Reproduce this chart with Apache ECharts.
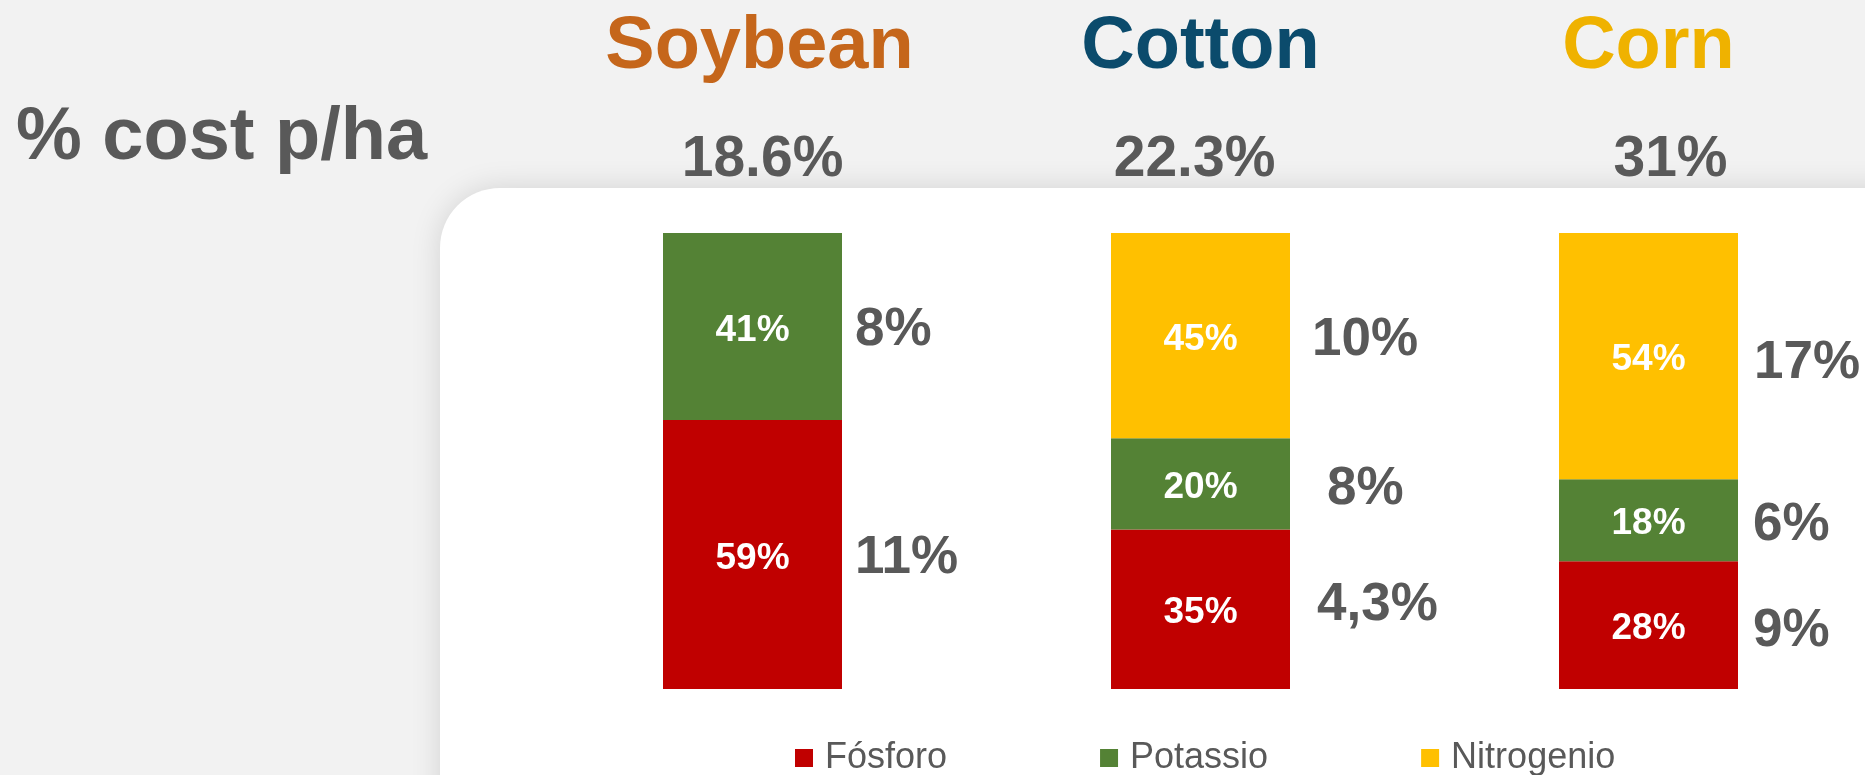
<!DOCTYPE html>
<html>
<head>
<meta charset="utf-8">
<script src="https://cdn.jsdelivr.net/npm/echarts@6/dist/echarts.min.js"></script>
<style>
  html, body { margin: 0; padding: 0; background: #f2f2f2; }
  #main { width: 1865px; height: 775px; }
</style>
</head>
<body>
<div id="main"></div>
<script>
// crops and their total fertilizer share of cost per ha
var categories = ['Soybean', 'Cotton', 'Corn'];
var totalCost = [18.6, 22.3, 31];

// composition of fertilizer cost (% of bar)
var nutrients = ['Fósforo', 'Potassio', 'Nitrogenio'];
var fosforo = [59, 35, 28];
var potassio = [41, 20, 18];
var nitrogenio = [0, 45, 54];

// share of cost per ha for each nutrient (side labels)
var fosforoCost = [11, 4.3, 9];
var potassioCost = [8, 8, 6];
var nitrogenioCost = [null, 10, 17];

// styling
var FONT = '"Liberation Sans", Arial, sans-serif';
var GRAY = '#595959';
var nutrientColors = ['#C00000', '#548235', '#FFC000'];
var cropColors = ['#C5661B', '#0B4B6C', '#EFB200'];
var nameShift = [7, 0, 0];
var costShift = [10, -6, 22];
// [dx, dy] of side labels per nutrient / crop
var sideShift = [
  [[13, 4], [27, -4], [15, 6]],
  [[13, 4], [37, 6], [15, 5]],
  [[13, 4], [22, 5], [16, 7]]
];

function pad(shift) {
  return shift >= 0 ? [0, 0, 0, shift * 2] : [0, -shift * 2, 0, 0];
}

var shares = [fosforo, potassio, nitrogenio];
var costs = [fosforoCost, potassioCost, nitrogenioCost];

var chart = echarts.init(document.getElementById('main'));

var nameRich = {}, costRich = {};
categories.forEach(function (c, i) {
  nameRich['n' + i] = { color: cropColors[i], fontSize: 74, fontWeight: 'bold', fontFamily: FONT, lineHeight: 74, padding: pad(nameShift[i]) };
  costRich['c' + i] = { color: GRAY, fontSize: 57, fontWeight: 'bold', fontFamily: FONT, lineHeight: 57, padding: pad(costShift[i]) };
});

var series = [];
nutrients.forEach(function (name, k) {
  series.push({
    name: name,
    type: 'bar',
    stack: 'share',
    barWidth: 179,
    barGap: '-100%',
    itemStyle: { color: nutrientColors[k] },
    label: {
      show: true,
      position: 'inside',
      offset: [0, 4],
      color: '#fff',
      fontSize: 37,
      fontWeight: 'bold',
      fontFamily: FONT,
      formatter: function (p) { return p.value ? p.value + '%' : ''; }
    },
    data: shares[k]
  });
});
nutrients.forEach(function (name, k) {
  series.push({
    name: name + ' cost',
    type: 'bar',
    stack: 'side',
    barWidth: 179,
    barGap: '-100%',
    silent: true,
    itemStyle: { color: 'rgba(0,0,0,0)' },
    data: shares[k].map(function (v, i) {
      return {
        value: v,
        label: { offset: sideShift[k][i] }
      };
    }),
    label: {
      show: true,
      position: 'right',
      distance: 0,
      color: GRAY,
      fontSize: 53,
      fontWeight: 'bold',
      fontFamily: FONT,
      formatter: function (p) {
        var c = costs[k][p.dataIndex];
        return c == null ? '' : String(c).replace('.', ',') + '%';
      }
    }
  });
});

chart.setOption({
  backgroundColor: '#f2f2f2',
  animation: false,
  title: {
    text: '% cost p/ha',
    left: 16,
    top: 102,
    padding: 0,
    textStyle: { color: GRAY, fontSize: 74, fontWeight: 'bold', fontFamily: FONT, lineHeight: 74 }
  },
  graphic: [{
    type: 'rect',
    z: -10,
    shape: { x: 440, y: 188, width: 1500, height: 700, r: [60, 0, 0, 0] },
    style: { fill: '#ffffff', shadowBlur: 30, shadowColor: 'rgba(0,0,0,0.13)' }
  }],
  legend: {
    data: nutrients,
    left: 795,
    top: 740,
    padding: 0,
    itemGap: 153,
    itemWidth: 18,
    itemHeight: 18,
    icon: 'rect',
    selectedMode: false,
    textStyle: { color: GRAY, fontSize: 36, fontFamily: FONT, padding: [0, 0, 0, 7] }
  },
  grid: { left: 528.5, top: 233, width: 1344, height: 456, outerBoundsMode: 'none' },
  xAxis: [{
    type: 'category',
    position: 'top',
    data: categories,
    axisLine: { show: false },
    axisTick: { show: false },
    axisLabel: {
      margin: 148,
      formatter: function (v, i) { return '{n' + i + '|' + v + '}'; },
      rich: nameRich
    }
  }, {
    type: 'category',
    position: 'top',
    data: categories,
    axisLine: { show: false },
    axisTick: { show: false },
    axisLabel: {
      margin: 44,
      formatter: function (v, i) { return '{c' + i + '|' + totalCost[i] + '%}'; },
      rich: costRich
    }
  }],
  yAxis: { type: 'value', min: 0, max: 100, show: false },
  series: series
});
</script>
</body>
</html>
